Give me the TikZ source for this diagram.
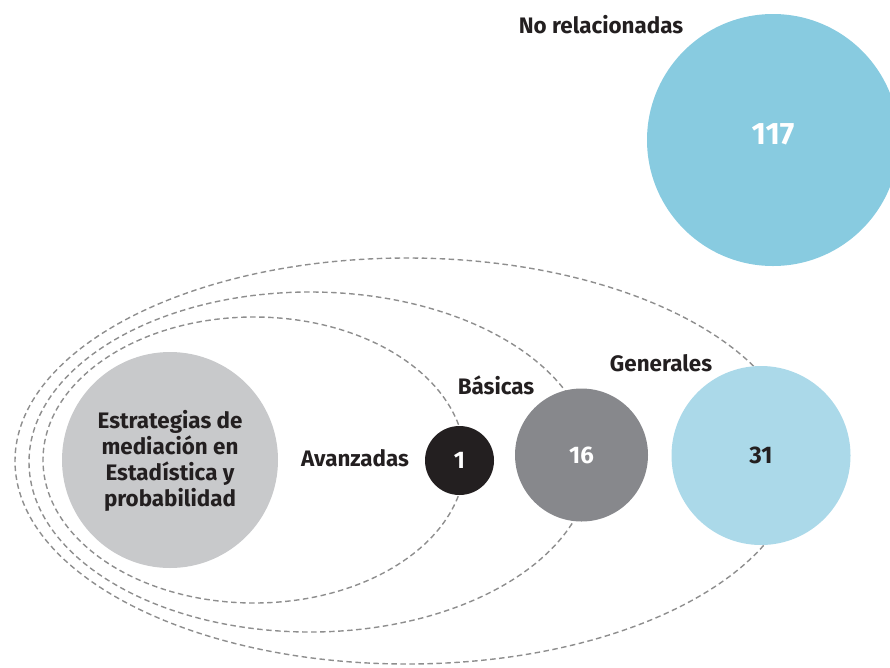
\documentclass[tikz,border=0pt]{standalone}
\usepackage{fontspec}
\setmainfont{Fira Sans}
\definecolor{txtdark}{HTML}{231F20}
\definecolor{bigblue}{HTML}{88CBE0}
\definecolor{lightblue}{HTML}{ABD9E9}
\definecolor{midgray}{HTML}{87888C}
\definecolor{lightgray}{HTML}{C8C9CB}
\definecolor{dashgray}{HTML}{8E8E8E}
\tikzset{
  bubble/.style={circle, draw=none, inner sep=0pt, font=\bfseries\fontsize{24}{27}\selectfont},
  lbl/.style={inner sep=0pt, text=txtdark, font=\bfseries\fontsize{22.4}{26}\selectfont},
  orbit/.style={draw=dashgray, line width=1.4pt, dash pattern=on 5.5pt off 3.5pt}
}
\begin{document}
\begin{tikzpicture}[x=1pt,y=-1pt]
\useasboundingbox (0,0) rectangle (890,667);
\clip (0,0) rectangle (890,667);
% dashed orbits
\draw[orbit] (407,461) ellipse [x radius=392pt, y radius=203pt];
\draw[orbit] (310,462) ellipse [x radius=281pt, y radius=170pt];
\draw[orbit] (254,460) ellipse [x radius=211pt, y radius=143pt];
% bubbles
\node[bubble, fill=bigblue, minimum size=252pt] (nr) at (773,140) {};
\node[text=white, font=\bfseries\fontsize{31}{34}\selectfont, inner sep=0pt] (nrv) at (773,134) {117};
\node[bubble, fill=lightgray, minimum size=216pt] (main) at (170,460) {};
\node[inner sep=0pt, align=center, text=txtdark, font=\bfseries\fontsize{22.4}{26}\selectfont] (maintxt) at (170,461) {Estrategias de\\mediación en\\Estadística y\\probabilidad};
\node[bubble, fill=txtdark, minimum size=69pt, text=white] (av) at (459.5,460.5) {1};
\node[bubble, fill=midgray, minimum size=133pt, text=white] (ba) at (581.5,455) {16};
\node[bubble, fill=lightblue, minimum size=179pt, text=txtdark] (ge) at (761,455.5) {31};
% labels
\node[lbl] (lnr) at (601,25) {No relacionadas};
\node[lbl] (lav) at (355,458) {Avanzadas};
\node[lbl] (lba) at (496,385) {Básicas};
\node[lbl] (lge) at (661,363) {Generales};
\end{tikzpicture}
\end{document}
